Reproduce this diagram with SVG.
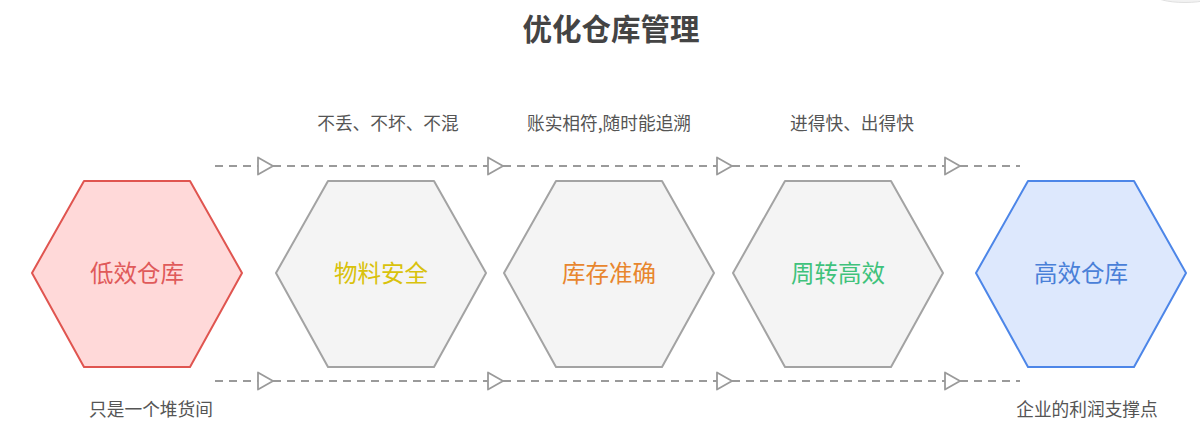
<svg xmlns="http://www.w3.org/2000/svg" width="1200" height="447" viewBox="0 0 1200 447">
<defs>
<style>
.t{font-family:"Noto Sans CJK SC","Noto Sans",sans-serif;}
.title{font-size:29.5px;font-weight:bold;fill:#444;text-anchor:middle;}
.lbl{font-size:17.7px;fill:#555;text-anchor:middle;}
.nl{font-size:23.5px;text-anchor:middle;}
.edge{fill:none;stroke:#9a9a9a;stroke-width:2;stroke-dasharray:8 6;}
.hex{stroke-width:2;stroke-linejoin:round;}
.gray{fill:#f4f4f4;stroke:#a3a3a3;}
</style>
<marker id="tri" viewBox="-2 -2 19 21" markerWidth="19" markerHeight="21" refX="15" refY="8.5" orient="auto" markerUnits="userSpaceOnUse">
<path d="M0,0 L15,8.5 L0,17 Z" fill="#fff" stroke="#9a9a9a" stroke-width="1.8" stroke-linejoin="round"/>
</marker>
</defs>
<rect width="1200" height="447" fill="#fff"/>
<ellipse cx="1185" cy="-6" rx="32" ry="8.5" fill="#f2f2f2" stroke="#e0e0e0" stroke-width="1"/>
<text class="t title" x="611" y="40">优化仓库管理</text>
<text class="t lbl" x="388" y="130">不丢、不坏、不混</text>
<text class="t lbl" x="609" y="130">账实相符,随时能追溯</text>
<text class="t lbl" x="852" y="130">进得快、出得快</text>
<text class="t lbl" x="151" y="416">只是一个堆货间</text>
<text class="t lbl" x="1087" y="416">企业的利润支撑点</text>
<g id="connectors">
<path class="edge" d="M215,166 L273,166" marker-end="url(#tri)"/>
<path class="edge" d="M273,166 L503,166" marker-end="url(#tri)"/>
<path class="edge" d="M503,166 L732,166" marker-end="url(#tri)"/>
<path class="edge" d="M732,166 L960,166" marker-end="url(#tri)"/>
<path class="edge" d="M960,166 L1020,166"/>
<path class="edge" d="M215,381 L273,381" marker-end="url(#tri)"/>
<path class="edge" d="M273,381 L503,381" marker-end="url(#tri)"/>
<path class="edge" d="M503,381 L732,381" marker-end="url(#tri)"/>
<path class="edge" d="M732,381 L960,381" marker-end="url(#tri)"/>
<path class="edge" d="M960,381 L1020,381"/>
</g>
<g id="node-low">
<polygon class="hex" points="32,273 84,181 190,181 242,273 190,367 84,367" fill="#ffd9d9" stroke="#e05550"/>
<text class="t nl" x="137" y="282" fill="#e05a5a">低效仓库</text>
</g>
<g id="node-safety">
<polygon class="hex gray" points="276,273 328,181 434,181 486,273 434,367 328,367"/>
<text class="t nl" x="381" y="282" fill="#d9c20c">物料安全</text>
</g>
<g id="node-accuracy">
<polygon class="hex gray" points="504,273 556,181 662,181 714,273 662,367 556,367"/>
<text class="t nl" x="609" y="282" fill="#e8862e">库存准确</text>
</g>
<g id="node-turnover">
<polygon class="hex gray" points="733,273 785,181 891,181 943,273 891,367 785,367"/>
<text class="t nl" x="838" y="282" fill="#3fc27b">周转高效</text>
</g>
<g id="node-high">
<polygon class="hex" points="976,273 1028,181 1134,181 1186,273 1134,367 1028,367" fill="#dde8fd" stroke="#4d86e8"/>
<text class="t nl" x="1081" y="282" fill="#4a80d8">高效仓库</text>
</g>
</svg>
